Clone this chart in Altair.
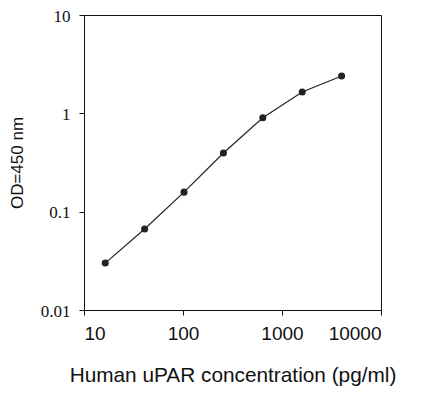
import altair as alt
import pandas as pd

conc = [16.38, 40.96, 102.4, 256, 640, 1600, 4000]
od = [0.030, 0.0667, 0.158, 0.395, 0.90, 1.65, 2.40]

df = pd.DataFrame({"conc": conc, "od": od})

x = alt.X("conc:Q",
          scale=alt.Scale(type="log", domain=[10, 10000], nice=False),
          axis=alt.Axis(values=[10, 100, 1000, 10000], format="d",
                        title="Human uPAR concentration (pg/ml)",
                        labelFont="Liberation Sans", labelFontSize=19,
                        labelPadding=9, titleFont="Liberation Sans",
                        titleFontSize=20.8, titleFontWeight="normal",
                        titlePadding=22, tickSize=5, grid=False,
                        labelColor="#111", titleColor="#111",
                        domainColor="#111", tickColor="#111"))
y = alt.Y("od:Q",
          scale=alt.Scale(type="log", domain=[0.01, 10], nice=False),
          axis=alt.Axis(values=[0.01, 0.1, 1, 10], format="~g",
                        title="OD=450 nm",
                        labelFont="Liberation Serif", labelFontSize=17,
                        labelPadding=9, labelOffset=1,
                        titleFont="Liberation Sans",
                        titleFontSize=17, titleFontWeight="normal",
                        titlePadding=14, tickSize=5, grid=False,
                        labelColor="#111", titleColor="#111",
                        domainColor="#111", tickColor="#111"))

base = alt.Chart(df).encode(x=x, y=y)
line = base.mark_line(color="#222", strokeWidth=1.2)
pts = base.mark_point(filled=True, color="#222", size=50, opacity=1)

chart = alt.layer(line, pts).properties(
    width=297, height=295,
    autosize=alt.AutoSizeParams(type="none"),
    padding={"left": 76, "top": 7, "right": 32, "bottom": 80},
    background="white",
).configure_view(stroke="#111", strokeWidth=1)

chart.save("out.html", embed_options={"renderer": "svg", "actions": False})
